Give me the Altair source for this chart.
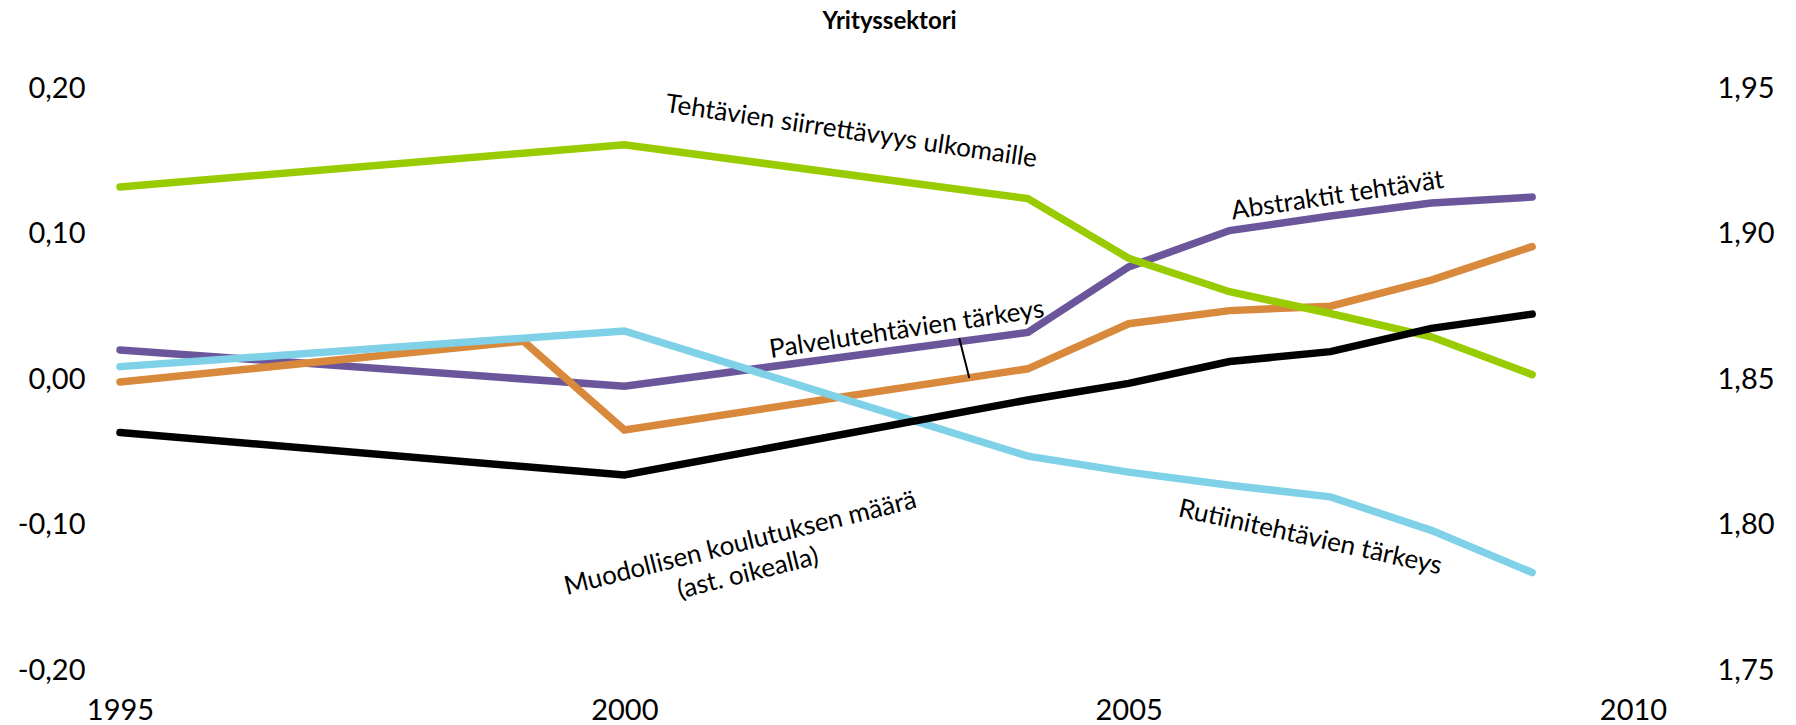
import altair as alt
import pandas as pd

FONT = "Lato"

# ---- data ----
years = [1995, 2000, 2004, 2005, 2006, 2007, 2008, 2009]
years_palvelu = [1995, 1999, 2000, 2004, 2005, 2006, 2007, 2008, 2009]

abstraktit = [0.020, -0.005, 0.032, 0.077, 0.102, 0.112, 0.121, 0.125]
palvelu = [-0.002, 0.026, -0.035, 0.007, 0.038, 0.047, 0.050, 0.068, 0.091]
rutiini = [0.0085, 0.033, -0.053, -0.064, -0.073, -0.081, -0.104, -0.133]
siirrettavyys = [0.132, 0.161, 0.124, 0.083, 0.060, 0.045, 0.029, 0.003]
koulutus = [1.8316, 1.8170, 1.8428, 1.8485, 1.8560, 1.8594, 1.8674, 1.8723]  # right axis

left_ticks = [-0.2, -0.1, 0.0, 0.1, 0.2]
right_ticks = [1.75, 1.80, 1.85, 1.90, 1.95]
x_ticks = [1995, 2000, 2005, 2010]

series_names = ["Abstraktit tehtävät", "Palvelutehtävien tärkeys",
                "Rutiinitehtävien tärkeys", "Tehtävien siirrettävyys ulkomaille"]
series_years = [years, years_palvelu, years, years]
series_values = [abstraktit, palvelu, rutiini, siirrettavyys]
series_colors = ["#6B569C", "#D9893C", "#7FD1E7", "#99CC00"]

# annotations (anchored in data coordinates)
title_text = "Yrityssektori"
title_year = 2002.63
title_value = 0.2454

ann_text = ["Tehtävien siirrettävyys ulkomaille", "Abstraktit tehtävät",
            "Palvelutehtävien tärkeys", "Muodollisen koulutuksen määrä\n(ast. oikealla)",
            "Rutiinitehtävien tärkeys"]
ann_year = [2002.25, 2007.07, 2002.8, 2001.15, 2006.8]
ann_value = [0.170, 0.126, 0.034, -0.113, -0.109]
ann_angle = [8.5, 351.5, 351.5, 346, 12.5]

leader_year = [2003.32, 2003.42]
leader_value = [0.0282, 0.0007]

# ---- axes / scales ----
fmt = "replace(replace(format(datum.value, '.2f'), '.', ','), '\u2212', '-')"

x_axis = alt.Axis(values=x_ticks, format="d", ticks=False, domain=False, grid=False,
                  labelFont=FONT, labelFontSize=29, labelColor="black", labelPadding=26,
                  labelFlush=False, labelOverlap=False, title=None)
x_scale = alt.Scale(domain=[1995, 2010], nice=False, zero=False)

yl_axis = alt.Axis(values=left_ticks, labelExpr=fmt, ticks=False, domain=False, grid=False,
                   labelFont=FONT, labelFontSize=29, labelColor="black", labelPadding=35,
                   labelFlush=False, labelOverlap=False, title=None)
yl_scale = alt.Scale(domain=[-0.2, 0.2], nice=False, zero=False)

yr_axis = alt.Axis(values=right_ticks, labelExpr=fmt, orient="right", ticks=False,
                   domain=False, grid=False, labelFont=FONT, labelFontSize=29,
                   labelColor="black", labelPadding=84, labelFlush=False,
                   labelOverlap=False, title=None)
yr_scale = alt.Scale(domain=[1.75, 1.95], nice=False, zero=False)


def X():
    return alt.X("vuosi:Q", scale=x_scale, axis=x_axis)


def YL():
    return alt.Y("arvo:Q", scale=yl_scale, axis=yl_axis)


left_layers = []
for name, yrs, vals, col in zip(series_names, series_years, series_values, series_colors):
    df = pd.DataFrame({"vuosi": yrs, "arvo": vals, "sarja": name})
    left_layers.append(
        alt.Chart(df).mark_line(color=col, strokeWidth=7.5, strokeCap="round")
        .encode(x=X(), y=YL())
    )

for t, xv, yv, a in zip(ann_text, ann_year, ann_value, ann_angle):
    df = pd.DataFrame({"vuosi": [xv], "arvo": [yv], "teksti": [t]})
    left_layers.append(
        alt.Chart(df).mark_text(font=FONT, fontSize=26, angle=a, align="center",
                                baseline="middle", color="black", lineBreak="\n",
                                lineHeight=31)
        .encode(x=X(), y=YL(), text="teksti:N")
    )

title_df = pd.DataFrame({"vuosi": [title_year], "arvo": [title_value], "teksti": [title_text]})
left_layers.append(
    alt.Chart(title_df).mark_text(font=FONT, fontSize=24, fontWeight="bold", align="center",
                                  baseline="middle", color="black")
    .encode(x=X(), y=YL(), text="teksti:N")
)

leader_df = pd.DataFrame({"vuosi": [leader_year[0]], "vuosi2": [leader_year[1]],
                          "arvo": [leader_value[0]], "arvo2": [leader_value[1]]})
left_layers.append(
    alt.Chart(leader_df).mark_rule(color="black", strokeWidth=2)
    .encode(x=X(), x2="vuosi2:Q", y=YL(), y2="arvo2:Q")
)

left = alt.layer(*left_layers)

black_df = pd.DataFrame({"vuosi": years, "arvo": koulutus})
right = alt.Chart(black_df).mark_line(color="black", strokeWidth=7.5, strokeCap="round").encode(
    x=X(), y=alt.Y("arvo:Q", scale=yr_scale, axis=yr_axis)
)

chart = (
    alt.layer(left, right)
    .resolve_scale(y="independent")
    .properties(
        width=1513, height=582,
        padding={"left": 112, "top": 80, "right": 150, "bottom": 52},
        autosize=alt.AutoSizeParams(type="none"),
        background="white",
    )
    .configure_view(stroke=None)
)

chart.save("out.html", embed_options={"renderer": "svg", "actions": False})
